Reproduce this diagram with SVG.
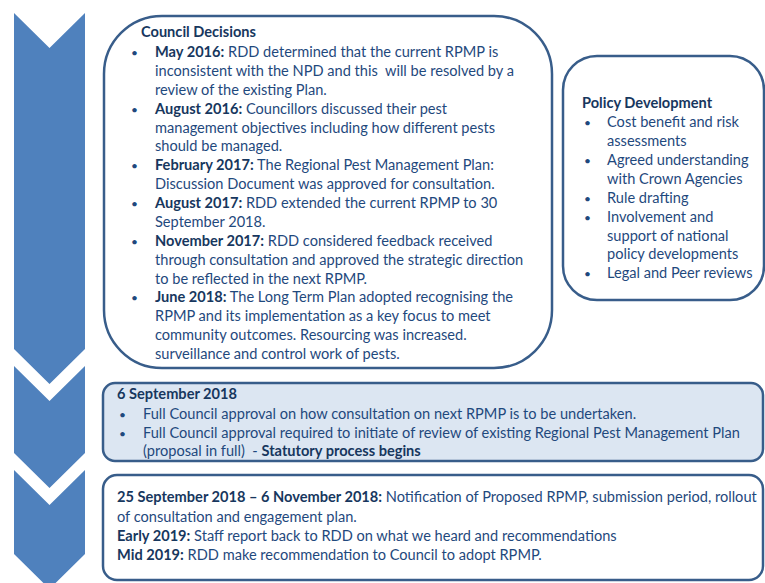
<svg xmlns="http://www.w3.org/2000/svg" width="765" height="583" viewBox="0 0 765 583">
  <style>
    .chev { fill: #4F81BD; }
    .box { fill: #FFFFFF; stroke: #385D8A; stroke-width: 2.5; }
    .box.tint { fill: #DCE6F2; }
    text { font-family: Lato, "Open Sans", "Liberation Sans", sans-serif; font-size: 14.6px; fill: #1F497D; }
    .dot { font-size: 12px; }
    .b { font-weight: bold; fill: #17375E; }
  </style>

  <!-- left timeline chevrons -->
  <g id="timeline">
    <polygon class="chev" points="14,13 49.5,48 85,13 85,349 49.5,384 14,349"/>
    <polygon class="chev" points="14,366 49.5,401 85,366 85,453 49.5,488 14,453"/>
    <polygon class="chev" points="14,470 49.5,505 85,470 85,554 49.5,589 14,554"/>
  </g>

  <!-- Council decisions -->
  <g id="council-decisions">
    <rect class="box" x="104" y="16" width="448" height="352" rx="58" ry="58"/>
    <text x="141" y="37" class="b">Council Decisions</text>
    <text x="131" y="57" class="dot">•</text>
    <text x="155" y="57"><tspan class="b">May 2016:</tspan> RDD determined that the current RPMP is</text>
    <text x="155" y="75.9">inconsistent with the NPD and this&#160; will be resolved by a</text>
    <text x="155" y="94.75">review of the existing Plan.</text>
    <text x="131" y="113.6" class="dot">•</text>
    <text x="155" y="113.6"><tspan class="b">August 2016:</tspan> Councillors discussed their pest</text>
    <text x="155" y="132.5">management objectives including how different pests</text>
    <text x="155" y="151.4">should be managed.</text>
    <text x="131" y="170.25" class="dot">•</text>
    <text x="155" y="170.25"><tspan class="b">February 2017:</tspan> The Regional Pest Management Plan:</text>
    <text x="155" y="189.1">Discussion Document was approved for consultation.</text>
    <text x="131" y="208" class="dot">•</text>
    <text x="155" y="208"><tspan class="b">August 2017:</tspan> RDD extended the current RPMP to 30</text>
    <text x="155" y="226.9">September 2018.</text>
    <text x="131" y="245.75" class="dot">•</text>
    <text x="155" y="245.75"><tspan class="b">November 2017:</tspan> RDD considered feedback received</text>
    <text x="155" y="264.6">through consultation and approved the strategic direction</text>
    <text x="155" y="283.5">to be reflected in the next RPMP.</text>
    <text x="131" y="302.4" class="dot">•</text>
    <text x="155" y="302.4"><tspan class="b">June 2018:</tspan> The Long Term Plan adopted recognising the</text>
    <text x="155" y="321.25">RPMP and its implementation as a key focus to meet</text>
    <text x="155" y="340.1">community outcomes. Resourcing was increased.</text>
    <text x="155" y="359">surveillance and control work of pests.</text>
  </g>

  <!-- Policy development -->
  <g id="policy-development">
    <rect class="box" x="563" y="56" width="201" height="244" rx="34" ry="34"/>
    <text x="582" y="108" class="b">Policy Development</text>
    <text x="584" y="127" class="dot">•</text>
    <text x="607" y="127">Cost benefit and risk</text>
    <text x="607" y="146">assessments</text>
    <text x="584" y="164.5" class="dot">•</text>
    <text x="607" y="164.5">Agreed understanding</text>
    <text x="607" y="183.5">with Crown Agencies</text>
    <text x="584" y="202.5" class="dot">•</text>
    <text x="607" y="202.5">Rule drafting</text>
    <text x="584" y="221.5" class="dot">•</text>
    <text x="607" y="221.5">Involvement and</text>
    <text x="607" y="240.5">support of national</text>
    <text x="607" y="259">policy developments</text>
    <text x="584" y="278" class="dot">•</text>
    <text x="607" y="278">Legal and Peer reviews</text>
  </g>

  <!-- 6 September 2018 -->
  <g id="september-2018">
    <rect class="box tint" x="103" y="383" width="660" height="78" rx="12" ry="12"/>
    <text x="117" y="399" class="b">6 September 2018</text>
    <text x="119" y="419" class="dot">•</text>
    <text x="143" y="419">Full Council approval on how consultation on next RPMP is to be undertaken.</text>
    <text x="119" y="437.5" class="dot">•</text>
    <text x="143" y="437.5">Full Council approval required to initiate of review of existing Regional Pest Management Plan</text>
    <text x="143" y="456">(proposal in full)&#160; - <tspan class="b">Statutory process begins</tspan></text>
  </g>

  <!-- Consultation and adoption -->
  <g id="consultation">
    <rect class="box" x="103" y="475" width="660" height="105" rx="14" ry="14"/>
    <text x="117" y="502"><tspan class="b">25 September 2018 – 6 November 2018:</tspan> Notification of Proposed RPMP, submission period, rollout</text>
    <text x="117" y="522">of consultation and engagement plan.</text>
    <text x="117" y="541"><tspan class="b">Early 2019:</tspan> Staff report back to RDD on what we heard and recommendations</text>
    <text x="117" y="560"><tspan class="b">Mid 2019:</tspan> RDD make recommendation to Council to adopt RPMP.</text>
  </g>
</svg>
